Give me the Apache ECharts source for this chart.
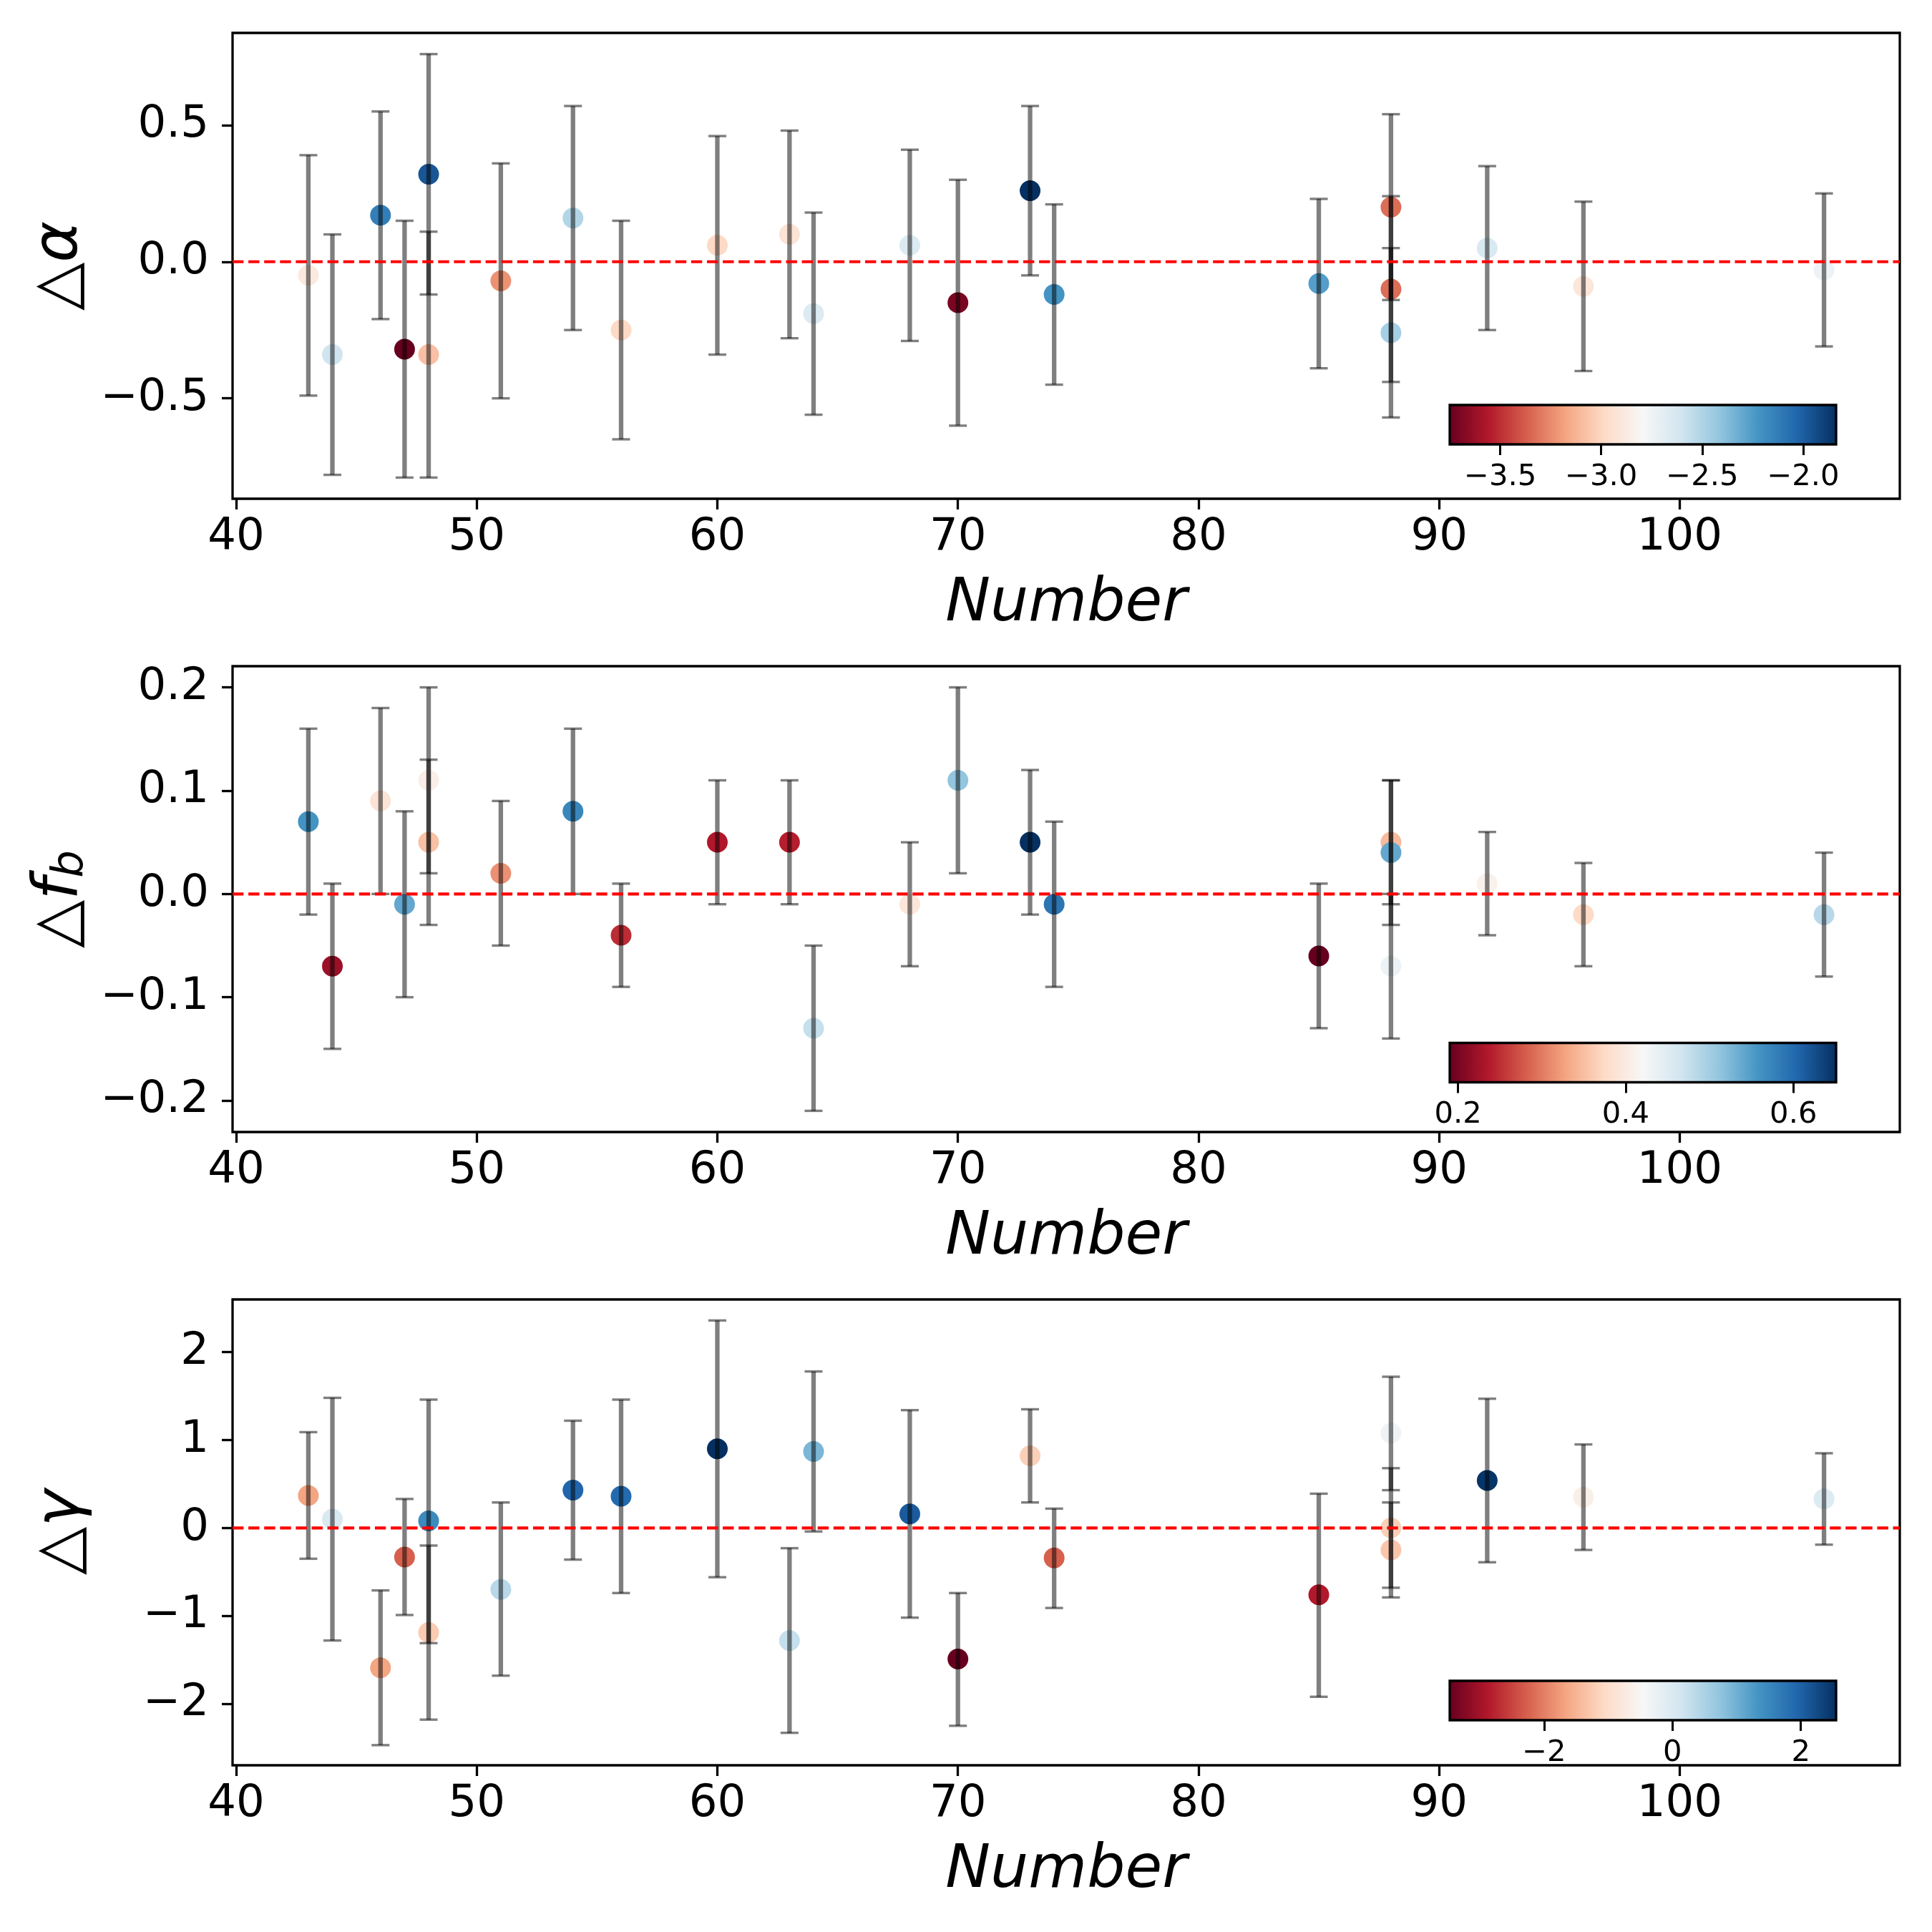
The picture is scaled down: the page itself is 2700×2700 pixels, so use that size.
<!DOCTYPE html>
<html><head><meta charset="utf-8">
<script src="https://cdn.jsdelivr.net/npm/echarts@6/dist/echarts.min.js"></script>
<style>html,body{margin:0;padding:0;background:#fff}#c{width:2700px;height:2700px}</style>
</head><body><div id="c"></div>
<script>
// ---------- data ----------
const numbers = [43,44,46,47,48,48,51,54,56,60,63,64,68,70,73,74,85,88,88,88,92,96,106];

const dAlpha      = [-0.05,-0.34,0.17,-0.32,0.32,-0.34,-0.07,0.16,-0.25,0.06,0.10,-0.19,0.06,-0.15,0.26,-0.12,-0.08,0.20,-0.10,-0.26,0.05,-0.09,-0.03];
const dAlphaUpper = [0.39,0.10,0.55,0.15,0.76,0.11,0.36,0.57,0.15,0.46,0.48,0.18,0.41,0.30,0.57,0.21,0.23,0.54,0.24,0.05,0.35,0.22,0.25];
const dAlphaLower = [-0.49,-0.78,-0.21,-0.79,-0.12,-0.79,-0.50,-0.25,-0.65,-0.34,-0.28,-0.56,-0.29,-0.60,-0.05,-0.45,-0.39,-0.14,-0.44,-0.57,-0.25,-0.40,-0.31];
const alphaColor  = [-2.89,-2.60,-2.13,-3.75,-1.97,-3.08,-3.23,-2.51,-2.99,-2.99,-2.93,-2.66,-2.66,-3.70,-1.84,-2.22,-2.26,-3.33,-3.33,-2.47,-2.64,-2.91,-2.74];

const dFb      = [0.07,-0.07,0.09,-0.01,0.11,0.05,0.02,0.08,-0.04,0.05,0.05,-0.13,-0.01,0.11,0.05,-0.01,-0.06,0.05,0.04,-0.07,0.01,-0.02,-0.02];
const dFbUpper = [0.16,0.01,0.18,0.08,0.20,0.13,0.09,0.16,0.01,0.11,0.11,-0.05,0.05,0.20,0.12,0.07,0.01,0.11,0.11,0.00,0.06,0.03,0.04];
const dFbLower = [-0.02,-0.15,0.00,-0.10,0.02,-0.03,-0.05,0.00,-0.09,-0.01,-0.01,-0.21,-0.07,0.02,-0.02,-0.09,-0.13,-0.01,-0.03,-0.14,-0.04,-0.07,-0.08];
const fbColor  = [0.559,0.221,0.388,0.54,0.406,0.351,0.314,0.572,0.249,0.235,0.24,0.475,0.392,0.512,0.651,0.59,0.19,0.346,0.54,0.434,0.41,0.374,0.485];

const dGamma      = [0.37,0.10,-1.59,-0.33,0.08,-1.19,-0.70,0.43,0.36,0.90,-1.28,0.87,0.16,-1.49,0.82,-0.34,-0.76,1.08,0.00,-0.25,0.54,0.35,0.33];
const dGammaUpper = [1.09,1.48,-0.71,0.33,1.46,-0.20,0.29,1.22,1.46,2.36,-0.23,1.78,1.34,-0.74,1.35,0.22,0.39,1.72,0.68,0.29,1.47,0.95,0.85];
const dGammaLower = [-0.35,-1.28,-2.47,-0.99,-1.31,-2.18,-1.68,-0.36,-0.74,-0.56,-2.33,-0.04,-1.02,-2.25,0.29,-0.91,-1.92,0.43,-0.68,-0.79,-0.39,-0.25,-0.19];
const gammaColor  = [-1.66,0.02,-1.66,-2.27,1.47,-1.24,0.38,1.95,1.89,2.55,0.26,0.92,2.07,-3.47,-1.18,-2.27,-2.87,-0.34,-1.18,-1.30,2.49,-0.64,-0.04];

const xLimits = [39.85, 109.15];
const xTicks = [40,50,60,70,80,90,100];
const xTickLabels = ['40','50','60','70','80','90','100'];

const alphaLimits = [-0.8675, 0.8375];
const alphaTicks = [-0.5,0,0.5];
const alphaTickLabels = ['\u22120.5','0.0','0.5'];
const fbLimits = [-0.2305, 0.2205];
const fbTicks = [-0.2,-0.1,0,0.1,0.2];
const fbTickLabels = ['\u22120.2','\u22120.1','0.0','0.1','0.2'];
const gammaLimits = [-2.699, 2.599];
const gammaTicks = [-2,-1,0,1,2];
const gammaTickLabels = ['\u22122','\u22121','0','1','2'];

const alphaCRange = [-3.75, -1.837];
const alphaCTicks = [-3.5,-3.0,-2.5,-2.0];
const alphaCTickLabels = ['\u22123.5','\u22123.0','\u22122.5','\u22122.0'];
const fbCRange = [0.19, 0.651];
const fbCTicks = [0.2,0.4,0.6];
const fbCTickLabels = ['0.2','0.4','0.6'];
const gammaCRange = [-3.47, 2.55];
const gammaCTicks = [-2,0,2];
const gammaCTickLabels = ['\u22122','0','2'];

const xLabel = 'Number';
const yLabels = ['{a|\u25B3}{b|\u03B1}', '{a|\u25B3}{b|f}{c|b}', '{a|\u25B3}{b|\u03B3}'];

const RdBu = ['#67001f','#b2182b','#d6604d','#f4a582','#fddbc7','#f7f7f7','#d1e5f0','#92c5de','#4393c3','#2166ac','#053061'];

// ---------- layout / style ----------
const FONT = 'DejaVu Sans';
const L = { left: 325, width: 2330, height: 651, tops: [46, 931, 1816],
            cbLeft: 2026, cbWidth: 540, cbTops: [566, 1457.5, 2349], cbHeight: 55 };

const panels = [
  {v: dAlpha, up: dAlphaUpper, lo: dAlphaLower, c: alphaColor, lim: alphaLimits, ticks: alphaTicks, tl: alphaTickLabels, cr: alphaCRange, ct: alphaCTicks, ctl: alphaCTickLabels},
  {v: dFb, up: dFbUpper, lo: dFbLower, c: fbColor, lim: fbLimits, ticks: fbTicks, tl: fbTickLabels, cr: fbCRange, ct: fbCTicks, ctl: fbCTickLabels},
  {v: dGamma, up: dGammaUpper, lo: dGammaLower, c: gammaColor, lim: gammaLimits, ticks: gammaTicks, tl: gammaTickLabels, cr: gammaCRange, ct: gammaCTicks, ctl: gammaCTickLabels}
];

function labelFor(ticks, labels) {
  return function (val) {
    for (let i = 0; i < ticks.length; i++) if (Math.abs(ticks[i] - val) < 1e-9) return labels[i];
    return '';
  };
}

const grids = [], xAxes = [], yAxes = [], series = [], visualMaps = [];

const errRender = function (params, api) {
  const x = api.value(0);
  const top = api.coord([x, api.value(2)]);
  const bot = api.coord([x, api.value(1)]);
  const stroke = 'rgba(0,0,0,0.5)';
  const hw = 12.5;
  return { type: 'group', children: [
    { type: 'line', shape: { x1: top[0], y1: top[1], x2: bot[0], y2: bot[1] }, style: { stroke: stroke, lineWidth: 6.3 } },
    { type: 'line', shape: { x1: top[0] - hw, y1: top[1], x2: top[0] + hw, y2: top[1] }, style: { stroke: stroke, lineWidth: 3.4 } },
    { type: 'line', shape: { x1: bot[0] - hw, y1: bot[1], x2: bot[0] + hw, y2: bot[1] }, style: { stroke: stroke, lineWidth: 3.4 } }
  ]};
};

const cbRender = function (params, api) {
  const a = api.coord([api.value(0), 1]);
  const b = api.coord([api.value(1), 0]);
  const stops = RdBu.map((c, i) => ({ offset: i / (RdBu.length - 1), color: c }));
  const shape = { x: a[0], y: a[1], width: b[0] - a[0], height: b[1] - a[1] };
  return { type: 'group', children: [
    { type: 'rect', shape: shape, style: { fill: new echarts.graphic.LinearGradient(0, 0, 1, 0, stops) } },
    { type: 'rect', shape: shape, style: { fill: 'none', stroke: '#000', lineWidth: 3.3 } }
  ]};
};

panels.forEach((p, i) => {
  // main grid
  grids.push({ left: L.left, top: L.tops[i], width: L.width, height: L.height,
               show: true, borderColor: '#000', borderWidth: 3.3, backgroundColor: 'transparent' });
  xAxes.push({ type: 'value', gridIndex: 2 * i, position: 'bottom', min: xLimits[0], max: xLimits[1],
    name: xLabel, nameLocation: 'middle', nameGap: 104,
    nameTextStyle: { fontFamily: FONT, fontStyle: 'italic', fontSize: 84, color: '#000', lineHeight: 88 },
    axisLine: { show: false, onZero: false }, splitLine: { show: false },
    axisTick: { show: true, length: 15, lineStyle: { color: '#000', width: 3.3 }, customValues: xTicks },
    axisLabel: { show: true, margin: 24, fontFamily: FONT, fontSize: 62.5, color: '#000', lineHeight: 62.5,
                 customValues: xTicks, formatter: labelFor(xTicks, xTickLabels) } });
  yAxes.push({ type: 'value', gridIndex: 2 * i, position: 'left', min: p.lim[0], max: p.lim[1],
    name: yLabels[i], nameLocation: 'middle', nameRotate: 90, nameGap: 193,
    nameTextStyle: { fontFamily: FONT, fontSize: 87.5, color: '#000', lineHeight: 90,
      rich: {
        a: { fontFamily: FONT, fontSize: 87.5, color: '#000', lineHeight: 90 },
        b: { fontFamily: FONT, fontSize: 87.5, fontStyle: 'italic', color: '#000', lineHeight: 90 },
        c: { fontFamily: FONT, fontSize: 61, fontStyle: 'italic', color: '#000', lineHeight: 50, verticalAlign: 'bottom' }
      } },
    axisLine: { show: false, onZero: false }, splitLine: { show: false },
    axisTick: { show: true, length: 15, lineStyle: { color: '#000', width: 3.3 }, customValues: p.ticks },
    axisLabel: { show: true, margin: 33, fontFamily: FONT, fontSize: 62.5, color: '#000',
                 customValues: p.ticks, formatter: labelFor(p.ticks, p.tl) } });
  // colorbar grid
  grids.push({ left: L.cbLeft, top: L.cbTops[i], width: L.cbWidth, height: L.cbHeight, show: false });
  xAxes.push({ type: 'value', gridIndex: 2 * i + 1, position: 'bottom', min: p.cr[0], max: p.cr[1],
    axisLine: { show: false, onZero: false }, splitLine: { show: false },
    axisTick: { show: true, length: 15, lineStyle: { color: '#000', width: 3 }, customValues: p.ct },
    axisLabel: { show: true, margin: 25, fontFamily: FONT, fontSize: 41.7, color: '#000', lineHeight: 42,
                 customValues: p.ct, formatter: labelFor(p.ct, p.ctl) } });
  yAxes.push({ type: 'value', gridIndex: 2 * i + 1, min: 0, max: 1, show: false, axisLine: { onZero: false } });

  const scatterIdx = series.length;
  series.push({ type: 'scatter', xAxisIndex: 2 * i, yAxisIndex: 2 * i, z: 2,
    symbolSize: 29, itemStyle: { opacity: 1 },
    data: numbers.map((x, k) => [x, p.v[k], p.c[k]]) });
  series.push({ type: 'custom', xAxisIndex: 2 * i, yAxisIndex: 2 * i, z: 3,
    renderItem: errRender, data: numbers.map((x, k) => [x, p.lo[k], p.up[k]]) });
  series.push({ type: 'line', xAxisIndex: 2 * i, yAxisIndex: 2 * i, z: 4, symbol: 'none', silent: true,
    lineStyle: { color: '#ff0000', width: 4.2, type: [15.4, 6.7] },
    data: [[xLimits[0], 0], [xLimits[1], 0]] });
  series.push({ type: 'custom', xAxisIndex: 2 * i + 1, yAxisIndex: 2 * i + 1, z: 5,
    renderItem: cbRender, data: [[p.cr[0], p.cr[1]]] });
  visualMaps.push({ type: 'continuous', show: false, seriesIndex: scatterIdx, dimension: 2,
    min: p.cr[0], max: p.cr[1], inRange: { color: RdBu } });
});

const chart = echarts.init(document.getElementById('c'), null, { renderer: 'canvas' });
chart.setOption({
  animation: false,
  backgroundColor: '#fff',
  textStyle: { fontFamily: FONT },
  grid: grids, xAxis: xAxes, yAxis: yAxes, visualMap: visualMaps, series: series
});
</script></body></html>
